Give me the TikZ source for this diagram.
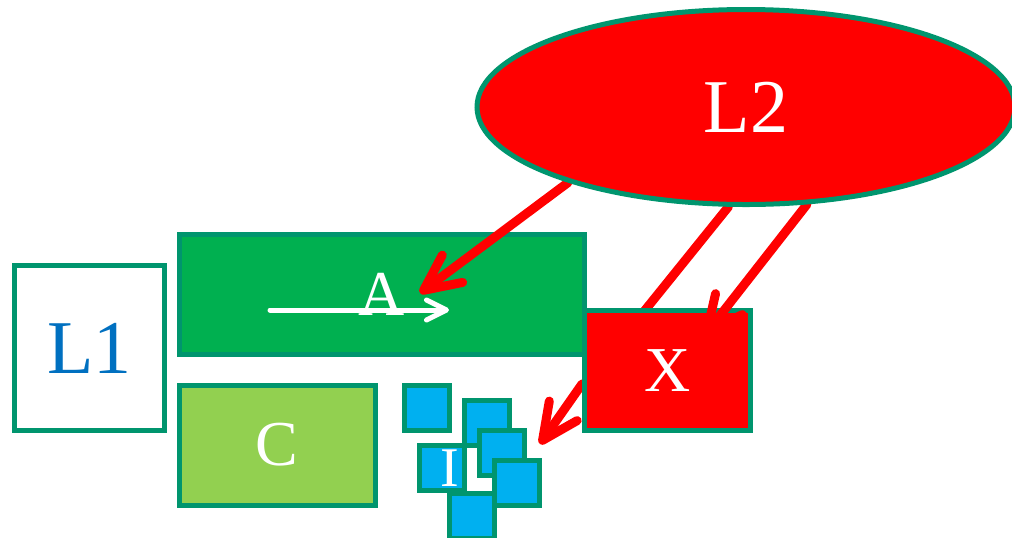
\documentclass[tikz,border=0pt]{standalone}
\usepackage{fontspec}
\setmainfont{Liberation Serif}
\usetikzlibrary{arrows.meta,shapes.geometric}
\definecolor{edgeteal}{HTML}{00956E}
\definecolor{boxgreen}{HTML}{00B050}
\definecolor{lightgreen}{HTML}{92D050}
\definecolor{tileblue}{HTML}{00B0F0}
\definecolor{labelblue}{HTML}{0070C0}
\definecolor{linkred}{HTML}{FF0000}
\pgfdeclarelayer{background}
\pgfdeclarelayer{foreground}
\pgfsetlayers{background,main,foreground}

\begin{document}
\begin{tikzpicture}[x=0.5pt,y=-0.5pt,
    box/.style={draw=edgeteal,line width=2.5pt,inner sep=0pt},
    tile/.style={box,fill=tileblue,minimum size=22.5pt},
    link/.style={draw=linkred,line width=4.5pt,line cap=round,-{Straight Barb[length=18pt,width=17pt,round]}}]
    \useasboundingbox (0,0) rectangle (1012,537);
    \node[box,fill=white,minimum width=75pt,minimum height=82.5pt,text=labelblue,font=\fontsize{38}{40}\selectfont] (L1) at (89.5,348) {L1};
    \node[box,fill=boxgreen,minimum width=202.5pt,minimum height=60pt,text=white,font=\fontsize{32}{34}\selectfont] (A) at (382,294.5) {A};
    \node[box,fill=lightgreen,minimum width=98pt,minimum height=60pt,text=white,font=\fontsize{32}{34}\selectfont] (C) at (277,445) {C};
    \coordinate (flowL) at (270,310);
    \coordinate (flowR) at (449,310);
    \draw[white,line width=2.5pt,line cap=round,-{Straight Barb[length=10pt,width=10pt,round]}] (flowL) -- (flowR);
    % cluster of small squares
    \node[tile] (sq1) at (427.3,407.7) {};
    \node[tile] (sq2) at (487.3,423.3) {};
    \node[tile] (sq3) at (441.7,467.7) {};
    \node[text=white,inner sep=0pt,font=\fontsize{28}{30}\selectfont] (I) at (450,468.5) {I};
    \node[tile] (sq4) at (502.3,452.7) {};
    \node[tile] (sq6) at (472.3,515.7) {};
    \node[tile] (sq5) at (517.3,482.7) {};
    \begin{pgfonlayer}{foreground}
    \node[box,ellipse,fill=linkred,minimum width=269pt,minimum height=97.5pt,text=white,font=\fontsize{38}{40}\selectfont] (L2) at (746,107) {L2};
    \end{pgfonlayer}
    \coordinate (tipA) at (420,293);
    \draw[link] (L2.203) -- (tipA);
    \node[box,fill=linkred,minimum width=83pt,minimum height=60pt,text=white,font=\fontsize{32}{34}\selectfont] (X) at (667.5,370.5) {X};
    \coordinate (tipX) at (704,336);
    \draw[link] (L2.302) -- (tipX);
    \begin{pgfonlayer}{background}
    \coordinate (tipXb) at (600,366);
    \coordinate (tipI) at (540,444);
    \draw[link] (L2.260) -- (tipXb);
    \draw[link] (X.189) -- (tipI);
    \end{pgfonlayer}
\end{tikzpicture}
\end{document}
